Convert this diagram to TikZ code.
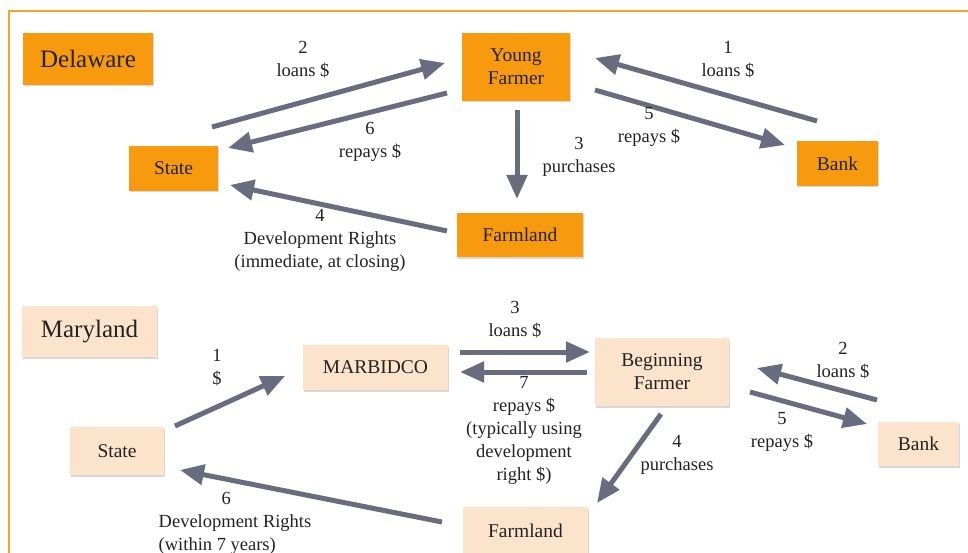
\documentclass[tikz,border=0pt]{standalone}
\usepackage{fontspec}
\setmainfont{Liberation Serif}
\usetikzlibrary{arrows.meta,shadows}
\definecolor{deor}{HTML}{F79A0E}
\definecolor{mdpe}{HTML}{FCE4CC}
\definecolor{arr}{HTML}{686C7E}
\definecolor{brd}{HTML}{F5A623}
\definecolor{txt}{HTML}{222222}
\begin{document}
\begin{tikzpicture}[x=1pt,y=-1pt,
 box/.style={rectangle, inner sep=0pt, align=center, text=txt, font=\fontsize{19.5}{23}\selectfont, drop shadow={opacity=0.3, shadow xshift=1pt, shadow yshift=-1.5pt}},
 de/.style={box, fill=deor},
 md/.style={box, fill=mdpe},
 ttl/.style={font=\fontsize{25}{28}\selectfont},
 lbl/.style={align=center, text=txt, font=\fontsize{18.5}{23}\selectfont, inner sep=0pt},
 flow/.style={draw=arr, line width=5pt, -{Triangle[length=24pt,width=20pt]}}]
\useasboundingbox (0,0) rectangle (968,553);
\fill[white] (0,0) rectangle (968,553);
\draw[brd, line width=2pt] (9,560) -- (9,11) -- (975,11);

% Delaware
\node[de, ttl, minimum width=130pt, minimum height=52pt] (delaware) at (88,59) {Delaware};
\node[de, minimum width=108pt, minimum height=68pt] (yf) at (516,67) {Young\\Farmer};
\node[de, minimum width=89pt, minimum height=45pt] (dstate) at (173.5,168.5) {State};
\node[de, minimum width=81pt, minimum height=45pt] (dbank) at (837.5,163.5) {Bank};
\node[de, minimum width=126pt, minimum height=44pt] (dfarm) at (520,235) {Farmland};

\coordinate (a2s) at (212,127); \coordinate (a2e) at (445,63);
\coordinate (a6s) at (447,93);  \coordinate (a6e) at (228,148);
\coordinate (a1s) at (817,121); \coordinate (a1e) at (595,58);
\coordinate (a5s) at (595,90);  \coordinate (a5e) at (785,145);
\coordinate (a3s) at (517,110); \coordinate (a3e) at (517,199);
\coordinate (a4s) at (447,231); \coordinate (a4e) at (230,185);
\draw[flow] (a2s) -- (a2e);
\draw[flow] (a6s) -- (a6e);
\draw[flow] (a1s) -- (a1e);
\draw[flow] (a5s) -- (a5e);
\draw[flow] (a3s) -- (a3e);
\draw[flow] (a4s) -- (a4e);

\node[lbl] (l2) at (303,60) {2\\loans \$};
\node[lbl] (l1) at (728,60) {1\\loans \$};
\node[lbl] (l6) at (370,142) {6\\repays \$};
\node[lbl] (l5) at (649,127) {5\\repays \$};
\node[lbl] (l3) at (579,157) {3\\purchases};
\node[lbl] (l4) at (320,240) {4\\Development Rights\\(immediate, at closing)};

% Maryland
\node[md, ttl, minimum width=135pt, minimum height=51pt] (maryland) at (89.5,331.5) {Maryland};
\node[md, minimum width=145pt, minimum height=45pt] (marb) at (375.5,367.5) {MARBIDCO};
\node[md, minimum width=134pt, minimum height=68pt] (bf) at (662,372) {Beginning\\Farmer};
\node[md, minimum width=94pt, minimum height=48pt] (mstate) at (117,451) {State};
\node[md, minimum width=81pt, minimum height=44pt] (mbank) at (918.5,444) {Bank};
\node[md, minimum width=125pt, minimum height=48pt] (mfarm) at (525.5,531) {Farmland};

\coordinate (b1s) at (175,426); \coordinate (b1e) at (285,376);
\coordinate (b3s) at (460,352); \coordinate (b3e) at (590,352);
\coordinate (b7s) at (587,372); \coordinate (b7e) at (460,372);
\coordinate (b4s) at (661,414); \coordinate (b4e) at (597,503);
\coordinate (b2s) at (877,400); \coordinate (b2e) at (757,368);
\coordinate (b5s) at (750,392); \coordinate (b5e) at (867,424);
\coordinate (b6s) at (442,522); \coordinate (b6e) at (180,470);
\draw[flow] (b1s) -- (b1e);
\draw[flow] (b3s) -- (b3e);
\draw[flow] (b7s) -- (b7e);
\draw[flow] (b4s) -- (b4e);
\draw[flow] (b2s) -- (b2e);
\draw[flow] (b5s) -- (b5e);
\draw[flow] (b6s) -- (b6e);

\node[lbl] (m1) at (217,368) {1\\\$};
\node[lbl] (m3) at (515,320) {3\\loans \$};
\node[lbl] (m7) at (524,430) {7\\repays \$\\(typically using\\development\\right \$)};
\node[lbl] (m4) at (677,455) {4\\purchases};
\node[lbl] (m2) at (843,361) {2\\loans \$};
\node[lbl] (m5) at (782,432) {5\\repays \$};
\node[lbl, align=left] (m6) at (235,523) {\hspace*{63pt}6\\Development Rights\\(within 7 years)};
\end{tikzpicture}
\end{document}
